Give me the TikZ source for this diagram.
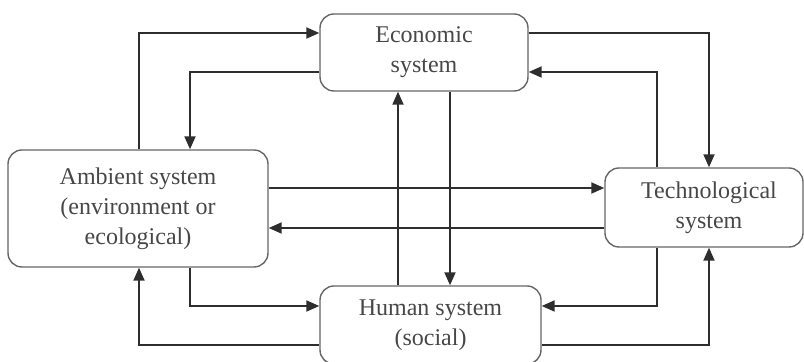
\documentclass[tikz,border=0pt]{standalone}
\usepackage{fontspec}
\setmainfont{Liberation Serif}
\usetikzlibrary{arrows.meta,calc}
\begin{document}
\begin{tikzpicture}[x=0.5pt,y=-0.5pt,
  sysbox/.style={draw=black!60,line width=0.7pt,rounded corners=7pt,align=center,inner sep=0pt,
    font=\fontsize{12}{15}\selectfont,text=black!72},
  arr/.style={draw=black!82,line width=1pt,-{Triangle[length=6.5pt,width=5.5pt]}}]
\useasboundingbox (0,0) rectangle (804,362);
\node[sysbox,minimum width=104pt,minimum height=38.5pt] (eco) at (424,52.5) {Economic\\system};
\node[sysbox,minimum width=130pt,minimum height=58.5pt] (amb) at (138,208.5) {Ambient system\\(environment or\\ecological)};
\node[sysbox,minimum width=99pt,minimum height=39.5pt] (tec) at (704,207.5) {\hspace*{5pt}Technological\\\hspace*{5pt}system};
\node[sysbox,minimum width=110.5pt,minimum height=39pt] (hum) at (430.5,325) {Human system\\(social)};
\coordinate (p1) at (139,33);
\coordinate (p2) at (190,72);
\coordinate (p3) at (709,33);
\coordinate (p4) at (657,72);
\coordinate (p5) at (0,188);
\coordinate (p6) at (0,228);
\coordinate (p7) at (398,0);
\coordinate (p8) at (450,0);
\coordinate (p9) at (190,306);
\coordinate (p10) at (139,345);
\coordinate (p11) at (657,306);
\coordinate (p12) at (709,345);
\draw[arr] (amb.north -| p1) |- (eco.west |- p1);
\draw[arr] (eco.west |- p2) -| (amb.north -| p2);
\draw[arr] (eco.east |- p3) -| (tec.north -| p3);
\draw[arr] (tec.north -| p4) |- (eco.east |- p4);
\draw[arr] (amb.east |- p5) -- (tec.west |- p5);
\draw[arr] (tec.west |- p6) -- (amb.east |- p6);
\draw[arr] (hum.north -| p7) -- (eco.south -| p7);
\draw[arr] (eco.south -| p8) -- (hum.north -| p8);
\draw[arr] (amb.south -| p9) |- (hum.west |- p9);
\draw[arr] (hum.west |- p10) -| (amb.south -| p10);
\draw[arr] (tec.south -| p11) |- (hum.east |- p11);
\draw[arr] (hum.east |- p12) -| (tec.south -| p12);
\end{tikzpicture}
\end{document}
